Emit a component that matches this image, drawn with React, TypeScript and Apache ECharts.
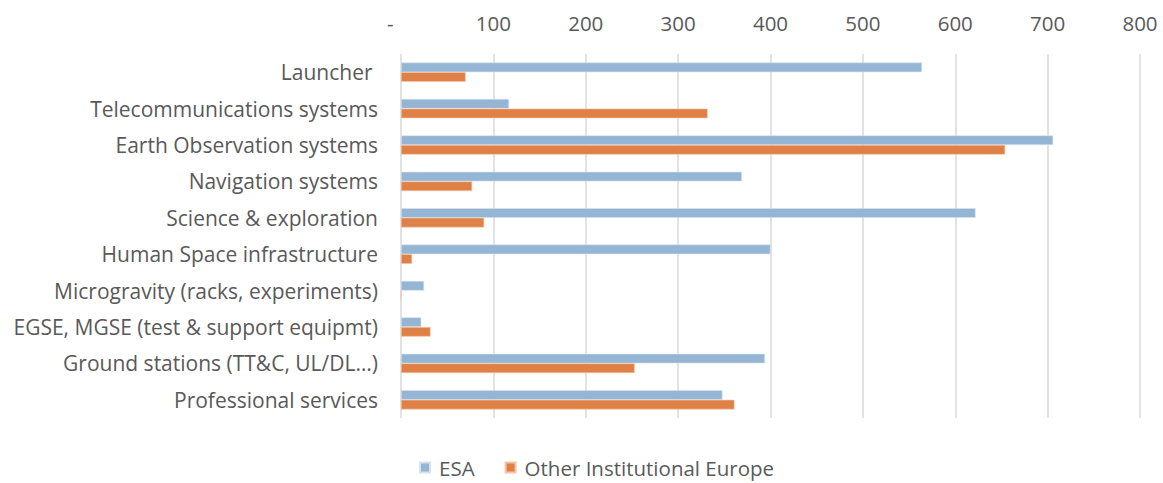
import React, { useEffect, useRef } from "react";
import * as echarts from "echarts";

const categories = [
  "Launcher ",
  "Telecommunications systems",
  "Earth Observation systems",
  "Navigation systems",
  "Science & exploration",
  "Human Space infrastructure",
  "Microgravity (racks, experiments)",
  "EGSE, MGSE (test & support equipmt)",
  "Ground stations (TT&C, UL/DL…)",
  "Professional services",
];
const esaValues = [564, 117, 706, 369, 622, 400, 25, 22, 394, 348];
const otherValues = [70, 332, 654, 77, 90, 12, 0, 32, 253, 361];
const seriesNames = ["ESA", "Other Institutional Europe"];
const xTicks = { min: 0, max: 800, interval: 100 };

const FONT = "'Open Sans', Lato, sans-serif";
const TEXT = "#595959";

export default function App() {
  const ref = useRef<HTMLDivElement>(null);
  useEffect(() => {
    if (!ref.current) return;
    document.body.style.margin = "0";
    document.body.style.overflow = "hidden";
    const chart = echarts.init(ref.current, undefined, { renderer: "svg" });
    chart.setOption({
      animation: false,
      backgroundColor: "#ffffff",
      textStyle: { fontFamily: FONT },
      grid: { left: 401, right: 23, top: 54, height: 364, containLabel: false },
      legend: {
        top: 452,
        left: 414,
        itemWidth: 10,
        itemHeight: 10,
        itemGap: 30,
        icon: "rect",
        textStyle: { fontSize: 20.5, color: TEXT, fontFamily: FONT, padding: [0, 0, 0, 4] },
        data: seriesNames,
      },
      xAxis: {
        type: "value",
        position: "top",
        min: xTicks.min,
        max: xTicks.max,
        interval: xTicks.interval,
        axisLine: { show: false },
        axisTick: { show: false },
        splitLine: { show: true, lineStyle: { color: "#d9d9d9", width: 1.5 } },
        axisLabel: {
          fontSize: 20.5,
          color: TEXT,
          fontFamily: FONT,
          margin: 21,
          formatter: (v: number) => (v === 0 ? "-    " : String(v)),
        },
      },
      yAxis: {
        type: "category",
        inverse: true,
        data: categories,
        axisLine: { show: false },
        axisTick: { show: false },
        axisLabel: { fontSize: 21, color: TEXT, fontFamily: FONT, margin: 23 },
      },
      series: [
        {
          name: seriesNames[0],
          type: "bar",
          data: esaValues,
          barGap: "0%",
          barCategoryGap: "47%",
          itemStyle: { color: "#94b5d3", borderColor: "#d6e2ee", borderWidth: 0.6 },
        },
        {
          name: seriesNames[1],
          type: "bar",
          data: otherValues,
          barGap: "0%",
          barCategoryGap: "47%",
          itemStyle: { color: "#df8146", borderColor: "#f3c6a8", borderWidth: 0.6 },
        },
      ],
    });
    return () => chart.dispose();
  }, []);
  return <div ref={ref} style={{ width: 1163, height: 483 }} />;
}
